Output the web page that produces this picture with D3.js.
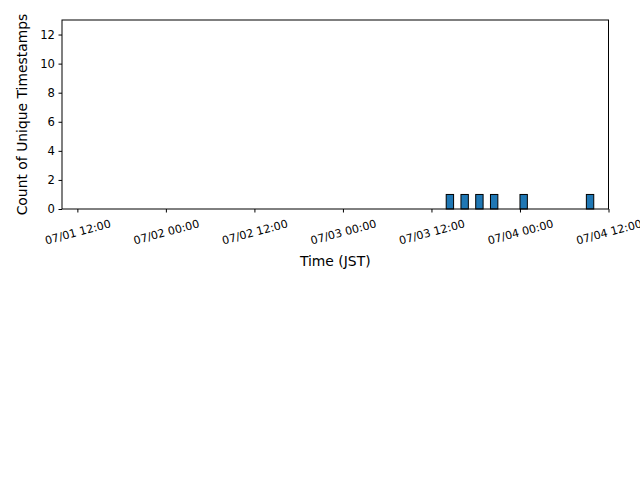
<!DOCTYPE html>
<html lang="en">
<head>
    <meta charset="UTF-8">
    <title>Count of Unique Timestamps</title>
    <script src="https://d3js.org/d3.v7.min.js"></script>
    <style>
        body {
            margin: 0;
            background: white;
            font-family: "DejaVu Sans", sans-serif;
        }

        .bar {
            fill: #1f77b4;
            stroke: black;
            stroke-width: 1;
        }

        .axis-label {
            font-size: 13.9px;
            fill: black;
        }
    </style>
</head>
<body>
    <svg id="chart"></svg>

    <script>
        // Hourly bins (JST) that hold timestamps, and their counts
        const binStarts = [
            "2024-07-03 14:00", "2024-07-03 16:00", "2024-07-03 18:00",
            "2024-07-03 20:00", "2024-07-04 00:00", "2024-07-04 09:00"
        ];
        const counts = [1, 1, 1, 1, 1, 1];

        // Axis ticks
        const xTicks = [
            "2024-07-01 12:00", "2024-07-02 00:00", "2024-07-02 12:00",
            "2024-07-03 00:00", "2024-07-03 12:00", "2024-07-04 00:00",
            "2024-07-04 12:00"
        ];
        const yTicks = [0, 2, 4, 6, 8, 10, 12];
        const xRange = ["2024-07-01 09:55", "2024-07-04 12:00"];
        const yMax = 13;

        const width = 640;
        const height = 480;
        const margin = { top: 20, right: 31.5, bottom: 271, left: 62 };

        const parse = d3.utcParse("%Y-%m-%d %H:%M");
        const fmt = d3.utcFormat("%m/%d %H:%M");

        const data = binStarts.map((s, i) => ({
            start: parse(s),
            end: d3.utcHour.offset(parse(s), 1),
            count: counts[i]
        }));

        const svg = d3.select('#chart')
            .attr('width', width)
            .attr('height', height);

        const x = d3.scaleUtc()
            .domain(xRange.map(parse))
            .range([margin.left, width - margin.right]);

        const y = d3.scaleLinear()
            .domain([0, yMax])
            .range([height - margin.bottom, margin.top]);

        // Bars
        svg.selectAll('.bar')
            .data(data)
            .enter()
            .append('rect')
            .attr('class', 'bar')
            .attr('x', d => x(d.start))
            .attr('y', d => y(d.count))
            .attr('width', d => x(d.end) - x(d.start))
            .attr('height', d => y(0) - y(d.count));

        // x axis
        const xAxis = svg.append('g')
            .attr('transform', `translate(0,${y(0)})`)
            .call(d3.axisBottom(x)
                .tickValues(xTicks.map(parse))
                .tickFormat(fmt)
                .tickSize(3.5)
                .tickSizeOuter(0));
        xAxis.select('.domain').remove();
        xAxis.selectAll('text')
            .attr('font-size', '11.1px')
            .attr('font-family', '"DejaVu Sans", sans-serif')
            .attr('fill', 'black')
            .attr('y', 23)
            .attr('dy', '0.35em')
            .attr('transform', 'rotate(-15, 0, 23)');

        // y axis
        const yAxis = svg.append('g')
            .attr('transform', `translate(${margin.left},0)`)
            .call(d3.axisLeft(y)
                .tickValues(yTicks)
                .tickSize(3.5)
                .tickPadding(3.5)
                .tickSizeOuter(0));
        yAxis.select('.domain').remove();
        yAxis.selectAll('text')
            .attr('font-size', '11.6px')
            .attr('font-family', '"DejaVu Sans", sans-serif')
            .attr('fill', 'black');

        // frame
        svg.append('rect')
            .attr('x', margin.left)
            .attr('y', margin.top)
            .attr('width', width - margin.right - margin.left)
            .attr('height', y(0) - margin.top)
            .attr('fill', 'none')
            .attr('stroke', 'black')
            .attr('stroke-width', 1);

        // axis labels
        svg.append('text')
            .attr('class', 'axis-label')
            .attr('x', (margin.left + width - margin.right) / 2)
            .attr('y', 266)
            .attr('text-anchor', 'middle')
            .text('Time (JST)');

        svg.append('text')
            .attr('class', 'axis-label')
            .attr('transform', `translate(26.5,${(margin.top + y(0)) / 2}) rotate(-90)`)
            .attr('text-anchor', 'middle')
            .text('Count of Unique Timestamps');
    </script>
</body>
</html>
